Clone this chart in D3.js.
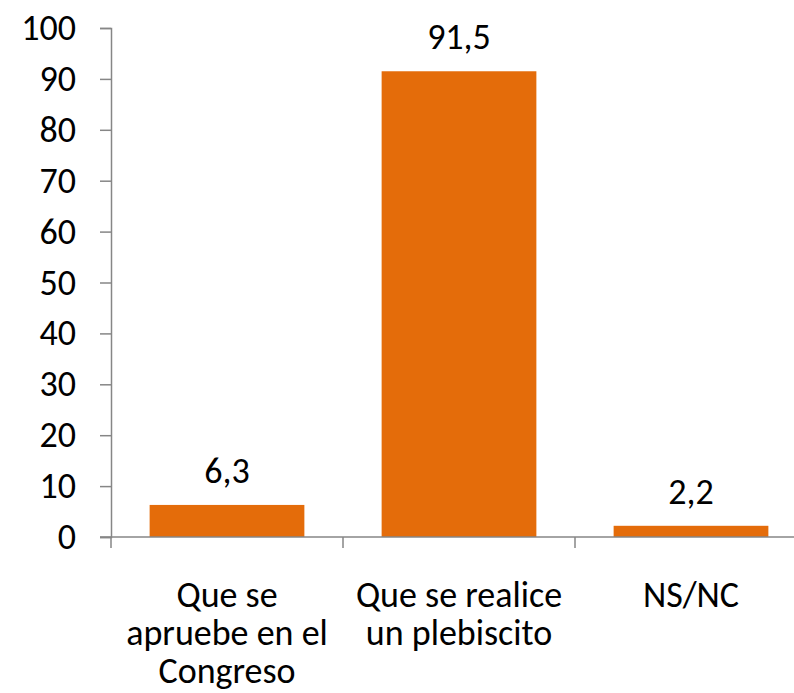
<!DOCTYPE html>
<html><head><meta charset="utf-8">
<script src="https://cdn.jsdelivr.net/npm/d3@7"></script>
<style>
body{margin:0;background:#fff;}
svg{display:block;}
text{font-family:Carlito,"Open Sans",sans-serif;fill:#000;}
</style></head>
<body>
<svg id="c" width="794" height="693"></svg>
<script>
const categories = [["Que se","apruebe en el","Congreso"],["Que se realice","un plebiscito"],["NS/NC"]];
const values = [6.3, 91.5, 2.2];
const valueLabels = ["6,3","91,5","2,2"];
const yTicks = [0,10,20,30,40,50,60,70,80,90,100];

const svg = d3.select("#c");
const mLeft = 111, mRight = 807, mTop = 28, mBottom = 537;
const fs = 36;
const x = d3.scaleBand().domain(d3.range(categories.length)).range([mLeft, mRight]).paddingInner(0.333).paddingOuter(0.1665);
const xb = d3.scaleBand().domain(d3.range(categories.length)).range([mLeft, mRight]);
const y = d3.scaleLinear().domain([0,100]).range([mBottom, mTop]);
const axisColor = "#868686";

// bars
svg.selectAll("rect.bar").data(values).enter().append("rect")
  .attr("x",(d,i)=>x(i)).attr("width",x.bandwidth())
  .attr("y",d=>y(d)).attr("height",d=>y(0)-y(d))
  .attr("fill","#E46C0A");

// y axis
const ya = svg.append("g").attr("transform",`translate(${mLeft},0)`)
  .call(d3.axisLeft(y).tickValues(yTicks).tickSize(11).tickPadding(24).tickFormat(d3.format("d")));
ya.select(".domain").attr("stroke",axisColor).attr("stroke-width",1.5);
ya.selectAll(".tick line").attr("stroke",axisColor).attr("stroke-width",1.5);
ya.selectAll(".tick text").attr("font-size",fs).attr("font-family",'Carlito,"Open Sans",sans-serif').attr("fill","#000");

// x axis
svg.append("line").attr("x1",mLeft-11).attr("x2",mRight).attr("y1",y(0)).attr("y2",y(0))
  .attr("stroke",axisColor).attr("stroke-width",1.5);
svg.selectAll("line.xt").data(d3.range(categories.length+1)).enter().append("line")
  .attr("x1",i=>mLeft+i*xb.bandwidth()).attr("x2",i=>mLeft+i*xb.bandwidth())
  .attr("y1",y(0)).attr("y2",y(0)+11).attr("stroke",axisColor).attr("stroke-width",1.5);

// category labels
categories.forEach((lines,i)=>{
  const t = svg.append("text").attr("text-anchor","middle").attr("font-size",fs);
  lines.forEach((l,j)=>{
    t.append("tspan").attr("x",xb(i)+xb.bandwidth()/2).attr("y",607+j*38).text(l);
  });
});

// value labels
svg.selectAll("text.val").data(values).enter().append("text")
  .attr("x",(d,i)=>x(i)+x.bandwidth()/2).attr("y",d=>y(d)-22)
  .attr("text-anchor","middle").attr("font-size",fs)
  .text((d,i)=>valueLabels[i]);
</script>
</body></html>
